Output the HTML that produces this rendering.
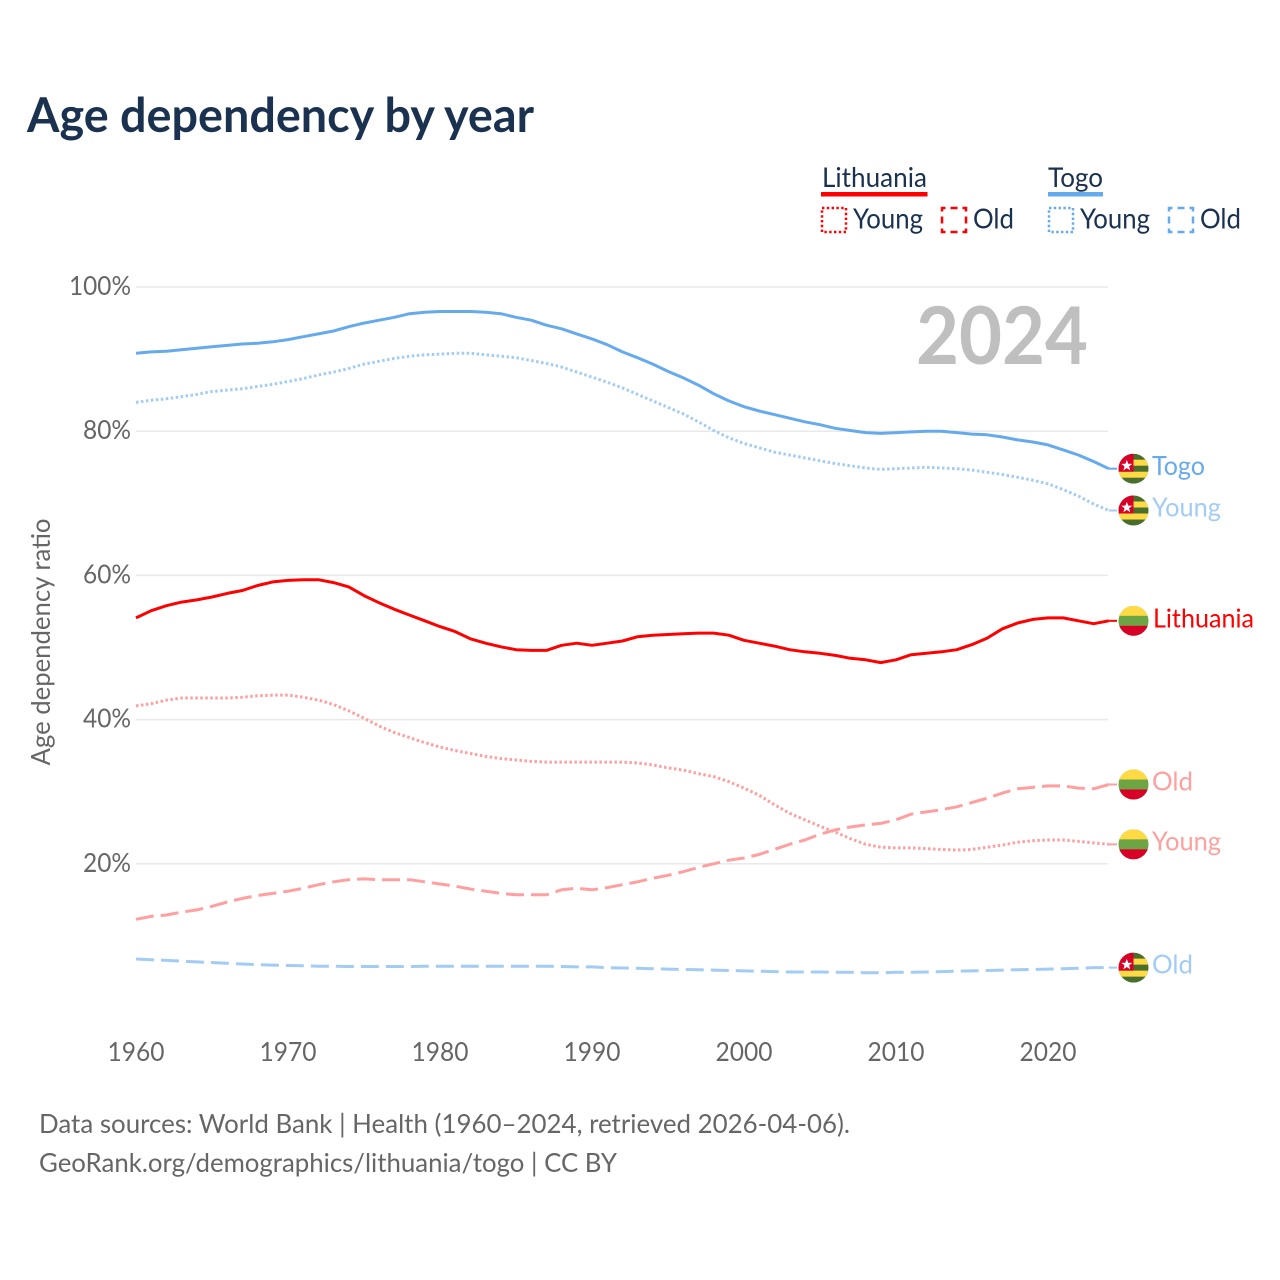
<!DOCTYPE html>
<html lang="en">
<head>
<meta charset="utf-8">
<title>Age dependency by year</title>
<style>
html,body{margin:0;padding:0;background:#fff;}
svg{display:block;font-family:"Lato","Carlito","Liberation Sans",sans-serif;}
</style>
</head>
<body>
<svg id="chart" xmlns="http://www.w3.org/2000/svg" width="1280" height="1280" viewBox="0 0 1280 1280">
  <defs>
    <clipPath id="flag-clip"><circle cx="0" cy="0" r="15"/></clipPath>
    <g id="flag-togo" clip-path="url(#flag-clip)">
      <rect x="-15" y="-15" width="30" height="30" fill="#496e2d"/>
      <rect x="-15" y="-9" width="30" height="6" fill="#ffda44"/>
      <rect x="-15" y="3" width="30" height="6" fill="#ffda44"/>
      <rect x="-15" y="-15" width="15" height="18" fill="#d80027"/>
      <polygon points="-6.700,-8.800 -5.300,-4.900 -1.200,-4.800 -4.400,-2.300 -3.300,1.700 -6.700,-0.600 -10.100,1.700 -9,-2.300 -12.200,-4.800 -8.100,-4.900" fill="#fff"/>
    </g>
    <g id="flag-lithuania" clip-path="url(#flag-clip)">
      <rect x="-15" y="-15" width="30" height="30" fill="#6da544"/>
      <rect x="-15" y="-15" width="30" height="10" fill="#ffda44"/>
      <rect x="-15" y="5" width="30" height="10" fill="#d80027"/>
    </g>
  </defs>

  <rect width="1280" height="1280" fill="#fff"/>

  <text x="27" y="132" font-size="48" font-weight="700" fill="#1a3150" textLength="507" lengthAdjust="spacingAndGlyphs">Age dependency by year</text>

  <g font-size="28" fill="#1a3150">
    <text x="822" y="187" font-size="27" textLength="105" lengthAdjust="spacingAndGlyphs">Lithuania</text>
    <rect x="821" y="192" width="106.500" height="4.500" fill="#ff0000"/>
    <rect x="822" y="208" width="24" height="24" fill="none" stroke="#ff0000" stroke-width="2.500" stroke-dasharray="2.400 2.400"/>
    <text x="853" y="228.500" textLength="70" lengthAdjust="spacingAndGlyphs">Young</text>
    <rect x="942" y="208" width="24" height="24" fill="none" stroke="#ff0000" stroke-width="2.500" stroke-dasharray="7 5" stroke-dashoffset="3.500"/>
    <text x="973" y="228.500" textLength="41" lengthAdjust="spacingAndGlyphs">Old</text>

    <text x="1048" y="187" font-size="27" textLength="55" lengthAdjust="spacingAndGlyphs">Togo</text>
    <rect x="1048" y="192" width="55" height="4.500" fill="#66aaee"/>
    <rect x="1049" y="208" width="24" height="24" fill="none" stroke="#66aaee" stroke-width="2.500" stroke-dasharray="2.400 2.400"/>
    <text x="1080" y="228.500" textLength="70" lengthAdjust="spacingAndGlyphs">Young</text>
    <rect x="1169" y="208" width="24" height="24" fill="none" stroke="#66aaee" stroke-width="2.500" stroke-dasharray="7 5" stroke-dashoffset="3.500"/>
    <text x="1200" y="228.500" textLength="41" lengthAdjust="spacingAndGlyphs">Old</text>
  </g>

  <g id="grid"></g>
  <g id="y-ticks"></g>
  <g id="x-ticks"></g>

  <text transform="translate(50 642) rotate(-90)" text-anchor="middle" font-size="26" fill="#666666" textLength="247" lengthAdjust="spacingAndGlyphs">Age dependency ratio</text>

  <text x="916" y="364" font-size="80" font-weight="700" fill="#bfbfbf" textLength="172" lengthAdjust="spacingAndGlyphs">2024</text>

  <g id="series"></g>

  <g font-size="26">
    <g class="end" data-series="togoTotal">
      <use href="#flag-togo" x="1133.500"/>
      <text x="1152" dy="6.500" fill="#66aaee" textLength="53" lengthAdjust="spacingAndGlyphs">Togo</text>
    </g>
    <g class="end" data-series="togoYoung">
      <use href="#flag-togo" x="1133.500"/>
      <text x="1152" dy="6" fill="#a3ccf4" textLength="69" lengthAdjust="spacingAndGlyphs">Young</text>
    </g>
    <g class="end" data-series="lithuaniaTotal">
      <use href="#flag-lithuania" x="1133.500"/>
      <text x="1153" dy="6.500" fill="#ff0000" textLength="101" lengthAdjust="spacingAndGlyphs">Lithuania</text>
    </g>
    <g class="end" data-series="lithuaniaOld">
      <use href="#flag-lithuania" x="1133.500"/>
      <text x="1152" dy="6" fill="#ff9f9f" textLength="41" lengthAdjust="spacingAndGlyphs">Old</text>
    </g>
    <g class="end" data-series="lithuaniaYoung">
      <use href="#flag-lithuania" x="1133.500"/>
      <text x="1152" dy="6" fill="#ff9f9f" textLength="69" lengthAdjust="spacingAndGlyphs">Young</text>
    </g>
    <g class="end" data-series="togoOld">
      <use href="#flag-togo" x="1133.500"/>
      <text x="1152" dy="6" fill="#a3ccf4" textLength="41" lengthAdjust="spacingAndGlyphs">Old</text>
    </g>
  </g>

  <g font-size="26" fill="#666666">
    <text x="39" y="1133" textLength="811" lengthAdjust="spacingAndGlyphs">Data sources: World Bank | Health (1960–2024, retrieved 2026-04-06).</text>
    <text x="39" y="1172" textLength="578" lengthAdjust="spacingAndGlyphs">GeoRank.org/demographics/lithuania/togo | CC BY</text>
  </g>
</svg>

<script>
const startYear = 1960;
const xTickLabels = [1960, 1970, 1980, 1990, 2000, 2010, 2020];
const yTickLabels = [20, 40, 60, 80, 100];

const togoTotal = [
  90.8,91.0,91.1,91.3,91.5,91.7,91.9,92.1,92.2,92.4,
  92.7,93.1,93.5,93.9,94.5,95.0,95.4,95.8,96.3,96.5,
  96.6,96.6,96.6,96.5,96.3,95.8,95.4,94.7,94.2,93.5,
  92.8,92.0,91.0,90.2,89.3,88.3,87.4,86.4,85.2,84.2,
  83.4,82.8,82.3,81.8,81.3,80.9,80.4,80.1,79.8,79.7,
  79.8,79.9,80.0,80.0,79.8,79.6,79.5,79.2,78.8,78.5,
  78.1,77.4,76.7,75.8,74.8
];
const togoYoung = [
  84.0,84.3,84.5,84.8,85.1,85.5,85.7,85.9,86.2,86.5,
  86.9,87.3,87.8,88.2,88.7,89.3,89.7,90.1,90.4,90.6,
  90.7,90.8,90.8,90.6,90.4,90.2,89.8,89.4,88.9,88.2,
  87.5,86.8,86.0,85.1,84.2,83.3,82.4,81.3,80.1,79.1,
  78.3,77.7,77.1,76.7,76.3,75.9,75.5,75.2,74.9,74.7,
  74.8,74.9,75.0,74.9,74.8,74.6,74.3,74.0,73.6,73.2,
  72.7,71.9,71.0,69.9,69.0
];
const togoOld = [
  6.8,6.7,6.6,6.5,6.4,6.3,6.2,6.1,6.0,5.95,
  5.9,5.85,5.8,5.8,5.75,5.75,5.75,5.75,5.75,5.8,
  5.8,5.8,5.8,5.8,5.8,5.8,5.8,5.8,5.75,5.7,
  5.7,5.6,5.55,5.5,5.45,5.4,5.35,5.3,5.25,5.2,
  5.15,5.1,5.05,5.0,5.0,5.0,4.95,4.95,4.9,4.9,
  4.95,4.95,5.0,5.05,5.1,5.15,5.2,5.25,5.3,5.35,
  5.4,5.45,5.5,5.6,5.6
];
const lithuaniaTotal = [
  54.1,55.1,55.8,56.3,56.6,57.0,57.5,57.9,58.6,59.1,
  59.3,59.4,59.4,59.0,58.4,57.2,56.2,55.3,54.5,53.7,
  52.9,52.2,51.2,50.6,50.1,49.7,49.6,49.6,50.3,50.6,
  50.3,50.6,50.9,51.5,51.7,51.8,51.9,52.0,52.0,51.7,
  51.0,50.6,50.2,49.7,49.4,49.2,48.9,48.5,48.3,47.9,
  48.3,49.0,49.2,49.4,49.7,50.4,51.3,52.6,53.4,53.9,
  54.1,54.1,53.7,53.3,53.7
];
const lithuaniaYoung = [
  41.9,42.2,42.7,43.0,43.0,43.0,43.0,43.1,43.3,43.4,
  43.4,43.1,42.7,42.1,41.2,40.2,39.1,38.2,37.5,36.8,
  36.2,35.7,35.3,34.9,34.6,34.4,34.2,34.1,34.1,34.1,
  34.1,34.1,34.1,34.0,33.7,33.3,33.0,32.5,32.1,31.4,
  30.5,29.5,28.2,27.0,26.1,25.2,24.4,23.5,22.7,22.3,
  22.2,22.2,22.1,22.0,21.9,22.0,22.3,22.6,23.0,23.2,
  23.3,23.3,23.1,22.9,22.7
];
const lithuaniaOld = [
  12.3,12.7,12.9,13.3,13.6,14.1,14.7,15.2,15.6,15.9,
  16.2,16.6,17.1,17.5,17.8,17.9,17.8,17.8,17.8,17.5,
  17.2,16.9,16.5,16.2,15.9,15.7,15.7,15.7,16.4,16.6,
  16.4,16.7,17.1,17.5,18.0,18.4,18.9,19.5,20.0,20.5,
  20.8,21.3,22.0,22.7,23.3,24.1,24.7,25.1,25.4,25.6,
  26.1,26.9,27.2,27.5,27.9,28.5,29.1,29.8,30.4,30.6,
  30.8,30.8,30.5,30.4,31.0
];

const SVG_NS = 'http://www.w3.org/2000/svg';
const xScale = year => 136 + (year - startYear) * 15.2;
const yScale = pct => 287 + (100 - pct) * 7.21;

const gridGroup = document.getElementById('grid');
const yTickGroup = document.getElementById('y-ticks');
const xTickGroup = document.getElementById('x-ticks');
const seriesGroup = document.getElementById('series');

yTickLabels.forEach(function (v) {
  const line = document.createElementNS(SVG_NS, 'line');
  
  
  line.setAttribute('x1', 136);
  line.setAttribute('x2', 1108);
  line.setAttribute('y1', yScale(v));
  line.setAttribute('y2', yScale(v));
  line.setAttribute('stroke', '#e9e9e9');
  line.setAttribute('stroke-width', '1.500');
  gridGroup.appendChild(line);

  const label = document.createElementNS(SVG_NS, 'text');
  
  
  label.setAttribute('x', 131);
  label.setAttribute('y', yScale(v) + 8);
  label.setAttribute('text-anchor', 'end');
  label.setAttribute('font-size', '26');
  label.setAttribute('fill', '#666666');
  label.setAttribute('textLength', v === 100 ? 62 : 48);
  label.setAttribute('lengthAdjust', 'spacingAndGlyphs');
  label.textContent = v + '%';
  yTickGroup.appendChild(label);
});

xTickLabels.forEach(function (y) {
  const label = document.createElementNS(SVG_NS, 'text');
  
  
  label.setAttribute('x', xScale(y));
  label.setAttribute('y', 1061);
  label.setAttribute('text-anchor', 'middle');
  label.setAttribute('font-size', '26');
  label.setAttribute('fill', '#666666');
  label.setAttribute('textLength', 57);
  label.setAttribute('lengthAdjust', 'spacingAndGlyphs');
  label.textContent = y;
  xTickGroup.appendChild(label);
});

function drawSeries(values, color, dash, name) {
  const last = values.length - 1;
  const pts = values.map(function (v, i) {
    return xScale(startYear + i).toFixed(1) + ',' + yScale(v).toFixed(1);
  });
  const line = document.createElementNS(SVG_NS, 'polyline');
  
  
  line.setAttribute('points', pts.join(' '));
  line.setAttribute('fill', 'none');
  line.setAttribute('stroke', color);
  line.setAttribute('stroke-width', '3');
  line.setAttribute('stroke-linejoin', 'round');
  if (dash) line.setAttribute('stroke-dasharray', dash);
  seriesGroup.appendChild(line);

  const leader = document.createElementNS(SVG_NS, 'line');
  
  
  leader.setAttribute('x1', xScale(startYear + last));
  leader.setAttribute('x2', 1117);
  leader.setAttribute('y1', yScale(values[last]));
  leader.setAttribute('y2', yScale(values[last]));
  leader.setAttribute('stroke', color);
  leader.setAttribute('stroke-width', '2');
  seriesGroup.appendChild(leader);
}

drawSeries(lithuaniaYoung, '#ff9f9f', '2.500 2.500', 'line-lithuania-young');
drawSeries(lithuaniaOld, '#ff9f9f', '18 7', 'line-lithuania-old');
drawSeries(togoYoung, '#a3ccf4', '2.500 2.500', 'line-togo-young');
drawSeries(togoOld, '#a3ccf4', '18 7', 'line-togo-old');
drawSeries(lithuaniaTotal, '#ff0000', null, 'line-lithuania');
drawSeries(togoTotal, '#66aaee', null, 'line-togo');

const endValues = {
  togoTotal: togoTotal,
  togoYoung: togoYoung,
  togoOld: togoOld,
  lithuaniaTotal: lithuaniaTotal,
  lithuaniaYoung: lithuaniaYoung,
  lithuaniaOld: lithuaniaOld
};
document.querySelectorAll('.end').forEach(function (g) {
  const values = endValues[g.getAttribute('data-series')];
  const y = yScale(values[values.length - 1]);
  g.querySelector('use').setAttribute('y', y);
  g.querySelector('text').setAttribute('y', y);
});
</script>
</body>
</html>
